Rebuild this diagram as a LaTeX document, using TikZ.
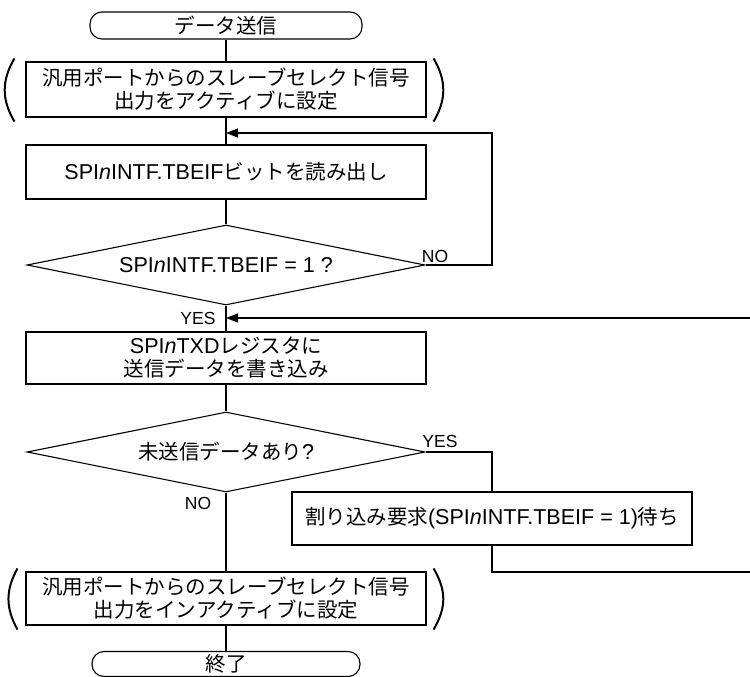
\documentclass[tikz,border=0pt]{standalone}
\usepackage{fontspec}
\setmainfont{Noto Sans CJK JP}
\newfontfamily\lat[Scale=1.05]{Liberation Sans}
\newfontfamily\flagfont{Liberation Sans}
\usepackage{tikz}
\usetikzlibrary{shapes.geometric, arrows.meta}

\tikzset{
  flowbox/.style={draw, line width=1.1pt, minimum width=400pt, minimum height=54pt,
    inner sep=0pt, align=center, font=\fontsize{20.5}{23}\selectfont},
  termbox/.style={draw, line width=1.1pt, rounded corners=12pt, minimum width=272pt,
    minimum height=27pt, inner sep=0pt, font=\fontsize{20.5}{23}\selectfont},
  decision/.style={draw, diamond, aspect=5, line width=1.1pt, minimum width=398pt,
    minimum height=80pt, inner sep=0pt, font=\fontsize{20.5}{23}\selectfont},
  flagtext/.style={inner sep=0pt, font=\flagfont\fontsize{17.5}{20}\selectfont},
  flow/.style={line width=1.1pt},
  flowin/.style={flow, -{Triangle[length=12pt, width=9pt]}},
  paren/.style={line width=2pt},
}

\begin{document}
\begin{tikzpicture}[x=1pt, y=-1pt]
  \useasboundingbox (0,0) rectangle (750,677);
  \clip (0,0) rectangle (750,677);

  % main column
  \node[termbox] (start) at (226,25.5) {データ送信};
  \node[flowbox, minimum height=55pt] (setact) at (226,89.5)
    {汎用ポートからのスレーブセレクト信号\\出力をアクティブに設定};
  \node[flowbox] (readflag) at (226,172)
    {{\lat SPI\textit{n}INTF.TBEIF}ビットを読み出し};
  \node[decision] (check) at (226,265) {{\lat SPI\textit{n}INTF.TBEIF = 1 ?}};
  \node[flowbox, minimum height=52pt] (writedata) at (226,358)
    {{\lat SPI\textit{n}TXD}レジスタに\\送信データを書き込み};
  \node[decision] (remain) at (226,452) {未送信データあり{\lat ?}};
  \node[flowbox, minimum height=53pt] (setinact) at (226,598.5)
    {汎用ポートからのスレーブセレクト信号\\出力をインアクティブに設定};
  \node[termbox, minimum width=268pt, minimum height=25pt] (finish) at (226,664) {終了};

  % side branch
  \node[flowbox, minimum height=53pt] (waitirq) at (492,518.5)
    {割り込み要求{\lat (SPI\textit{n}INTF.TBEIF = 1)}待ち};

  % parentheses
  \draw[paren] ([xshift=-11pt,yshift=3pt]setact.north west) .. controls +(-13,22) and +(-13,-22) .. ([xshift=-11pt,yshift=-4pt]setact.south west);
  \draw[paren] ([xshift=7pt,yshift=3pt]setact.north east) .. controls +(13,22) and +(13,-22) .. ([xshift=7pt,yshift=-4pt]setact.south east);
  \draw[paren] ([xshift=-8pt,yshift=3pt]setinact.north west) .. controls +(-12,22) and +(-12,-22) .. ([xshift=-8pt,yshift=-4pt]setinact.south west);
  \draw[paren] ([xshift=7pt,yshift=3pt]setinact.north east) .. controls +(13,22) and +(13,-22) .. ([xshift=7pt,yshift=-4pt]setinact.south east);

  % connectors
  \draw[flow] (start.south) -- (setact.north);
  \draw[flow] (setact.south) -- (readflag.north);
  \draw[flow] (readflag.south) -- (check.north);
  \draw[flow] (check.south) -- (writedata.north);
  \draw[flow] (writedata.south) -- (remain.north);
  \draw[flow] (remain.south) -- (setinact.north);
  \draw[flow] (setinact.south) -- (finish.north);

  \coordinate (noturn) at (492,133);
  \draw[flowin] (check.east) -| (noturn) -- (noturn -| readflag.north);
  \draw[flow] (remain.east) -| (waitirq.north);
  \coordinate (retdown) at (770,572);
  \coordinate (retup) at (770,318);
  \draw[flowin] (waitirq.south) |- (retdown) -- (retup) -- (retup -| writedata.north);

  % branch labels
  \node[flagtext] (checkno) at (435,256) {NO};
  \node[flagtext] (checkyes) at (198,318) {YES};
  \node[flagtext] (remainyes) at (440,441) {YES};
  \node[flagtext] (remainno) at (198,503) {NO};
\end{tikzpicture}
\end{document}
